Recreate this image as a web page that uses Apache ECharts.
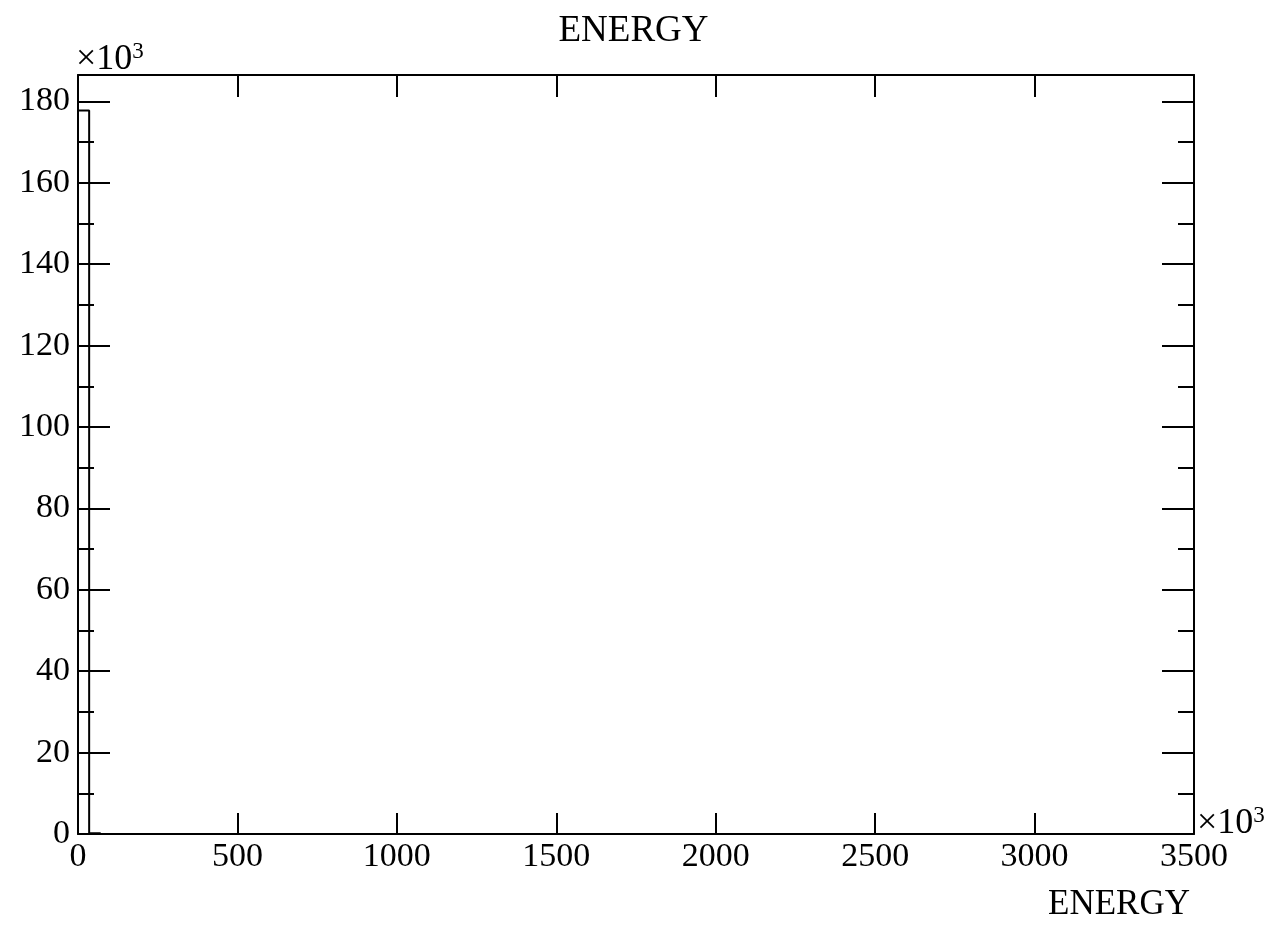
<!DOCTYPE html>
<html>
<head>
<meta charset="utf-8">
<script src="https://cdn.jsdelivr.net/npm/echarts@6/dist/echarts.min.js"></script>
<style>
  html, body { margin: 0; padding: 0; background: #fff; }
  #chart { width: 1267px; height: 925px; }
</style>
</head>
<body>
<div id="chart"></div>
<script>
// histogram bins, in units of 10^3
const binWidth = 35;
const binCounts = [177.8, 0.2];
const xTicks = [0, 500, 1000, 1500, 2000, 2500, 3000, 3500];
const yTicks = [0, 20, 40, 60, 80, 100, 120, 140, 160, 180];

const font = "Liberation Serif";

// step outline of the histogram
const outline = [[0, 0]];
binCounts.forEach((c, i) => {
  outline.push([i * binWidth, c]);
  outline.push([(i + 1) * binWidth, c]);
});
outline.push([binCounts.length * binWidth, 0]);

const chart = echarts.init(document.getElementById("chart"));

const axisCommon = {
  type: "value",
  axisLine: { show: true, onZero: false, lineStyle: { color: "#000", width: 2 } },
  splitLine: { show: false },
};

const expLabel = (left, top) => ({
  type: "text", left: left, top: top,
  style: {
    text: "{base|×10}{sup|3}",
    fill: "#000",
    rich: {
      base: { fontFamily: font, fontSize: 36, color: "#000" },
      sup: { fontFamily: font, fontSize: 23, color: "#000", verticalAlign: "top", padding: [0, 0, 16, 0] },
    },
  },
});

chart.setOption({
  animation: false,
  backgroundColor: "#fff",
  title: {
    text: "ENERGY",
    left: "center",
    top: 8,
    textStyle: { fontFamily: font, fontSize: 37, fontWeight: "normal", color: "#000" },
  },
  grid: { left: 78, top: 75, width: 1116, height: 759 },
  xAxis: [
    {
      ...axisCommon,
      position: "bottom",
      min: 0,
      max: xTicks[xTicks.length - 1],
      interval: 500,
      axisTick: { show: true, inside: true, length: 21, lineStyle: { color: "#000", width: 2 } },
      axisLabel: {
        fontFamily: font, fontSize: 34, color: "#000", margin: 6,
        showMinLabel: true, showMaxLabel: true,
        formatter: (v) => (xTicks.includes(v) ? String(v) : ""),
      },
    },
    {
      ...axisCommon,
      position: "top",
      min: 0,
      max: xTicks[xTicks.length - 1],
      interval: 500,
      axisTick: { show: true, inside: true, length: 22, lineStyle: { color: "#000", width: 2 } },
      axisLabel: { show: false },
    },
  ],
  yAxis: [
    {
      ...axisCommon,
      position: "left",
      min: 0,
      max: 186.5,
      interval: 20,
      axisTick: { show: true, inside: true, length: 32, lineStyle: { color: "#000", width: 2 } },
      minorTick: { show: true, splitNumber: 2, length: 16, lineStyle: { color: "#000", width: 2 } },
      axisLabel: {
        fontFamily: font, fontSize: 34, color: "#000", margin: 8,
        showMaxLabel: false,
        formatter: (v) => (yTicks.includes(v) ? String(v) : ""),
      },
    },
    {
      ...axisCommon,
      position: "right",
      min: 0,
      max: 186.5,
      interval: 20,
      axisTick: { show: true, inside: true, length: 32, lineStyle: { color: "#000", width: 2 } },
      minorTick: { show: true, splitNumber: 2, length: 16, lineStyle: { color: "#000", width: 2 } },
      axisLabel: { show: false },
    },
  ],
  graphic: [
    expLabel(76, 40),
    expLabel(1197, 804),
    {
      type: "text", right: 77, top: 887,
      style: { text: "ENERGY", font: "35px " + font, fill: "#000" },
    },
  ],
  series: [
    {
      type: "line",
      data: outline,
      symbol: "none",
      lineStyle: { color: "#000", width: 2 },
      silent: true,
    },
  ],
});
</script>
</body>
</html>
